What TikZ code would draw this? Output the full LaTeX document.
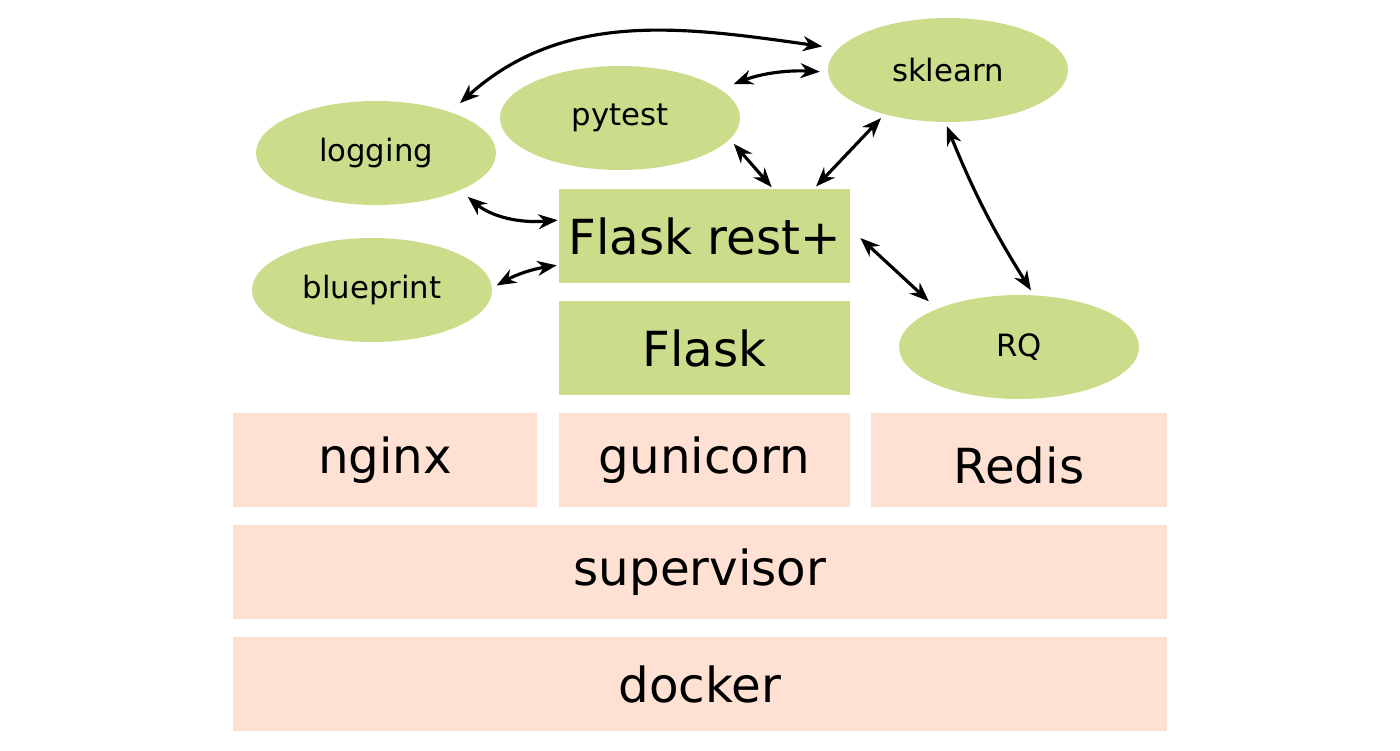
\documentclass[tikz,border=0pt]{standalone}
\usepackage{fontspec}
\setmainfont{DejaVu Sans}
\usetikzlibrary{shapes.geometric,arrows.meta}

\definecolor{libgreen}{RGB}{203,220,138}
\definecolor{stackpeach}{RGB}{254,225,210}

\tikzset{
  layer/.style={fill=stackpeach, minimum height=1.88cm, inner sep=0pt, font=\fontsize{27.5}{32}\selectfont},
  flaskbox/.style={fill=libgreen, minimum width=5.82cm, minimum height=1.88cm, inner sep=0pt, font=\fontsize{27.5}{32}\selectfont},
  lib/.style={ellipse, fill=libgreen, minimum width=4.8cm, minimum height=2.08cm, inner sep=0pt, font=\fontsize{17.5}{21}\selectfont},
  link/.style={<->, >={Stealth[length=11pt,width=8.5pt,inset=3.5pt]}, line width=1.8pt}
}

\begin{document}
\begin{tikzpicture}
                    \useasboundingbox (0,0) rectangle (28,15);
                    \node[layer, minimum width=18.68cm] (docker) at (14,1.32) {docker};
                    \node[layer, minimum width=18.68cm] (supervisor) at (14,3.56) {supervisor};
                    \node[layer, minimum width=6.08cm] (nginx) at (7.70,5.80) {nginx};
                    \node[layer, minimum width=5.82cm] (gunicorn) at (14.09,5.80) {gunicorn};
                    \node[layer, minimum width=5.92cm, text height=27pt, text depth=0pt] (redis) at (20.38,5.80) {Redis};
                    \node[flaskbox] (flask) at (14.09,8.04) {Flask};
                    \node[flaskbox] (rest) at (14.09,10.28) {Flask rest+};
                    \node[lib] (sklearn) at (18.96,13.60) {sklearn};
                    \node[lib] (pytest) at (12.40,12.64) {pytest};
                    \node[lib] (logging) at (7.52,11.94) {logging};
                    \node[lib] (blueprint) at (7.44,9.20) {blueprint};
                    \node[lib] (rq) at (20.38,8.06) {RQ};
                    \draw[link, shorten <=0.26cm, shorten >=0.32cm] (logging.29) to[out=42,in=172] (sklearn.169);
                    \draw[link, shorten <=0.28cm, shorten >=0.16cm] (pytest.16) to[bend left=12] (sklearn.181);
                    \draw[link, shorten <=0.12cm, shorten >=0.04cm] (pytest.-11) -- ([xshift=1.37cm]rest.north);
                    \draw[link, shorten <=0.1cm, shorten >=0.06cm] (sklearn.-145) -- ([xshift=2.19cm]rest.north);
                    \draw[link, shorten <=0.08cm, shorten >=0.11cm] (sklearn.267) to[bend right=5] (rq.74);
                    \draw[link, shorten >=0.22cm] ([xshift=0.2cm,yshift=-0.04cm]rest.east) -- (rq.155);
                    \draw[link, shorten <=0.2cm, shorten >=0.02cm] (logging.-24) to[out=-40,in=185] ([yshift=0.32cm]rest.west);
                    \draw[link, shorten <=0.1cm, shorten >=0.04cm] (blueprint.1) to[bend left=10] ([yshift=-0.58cm]rest.west);
\end{tikzpicture}
\end{document}
